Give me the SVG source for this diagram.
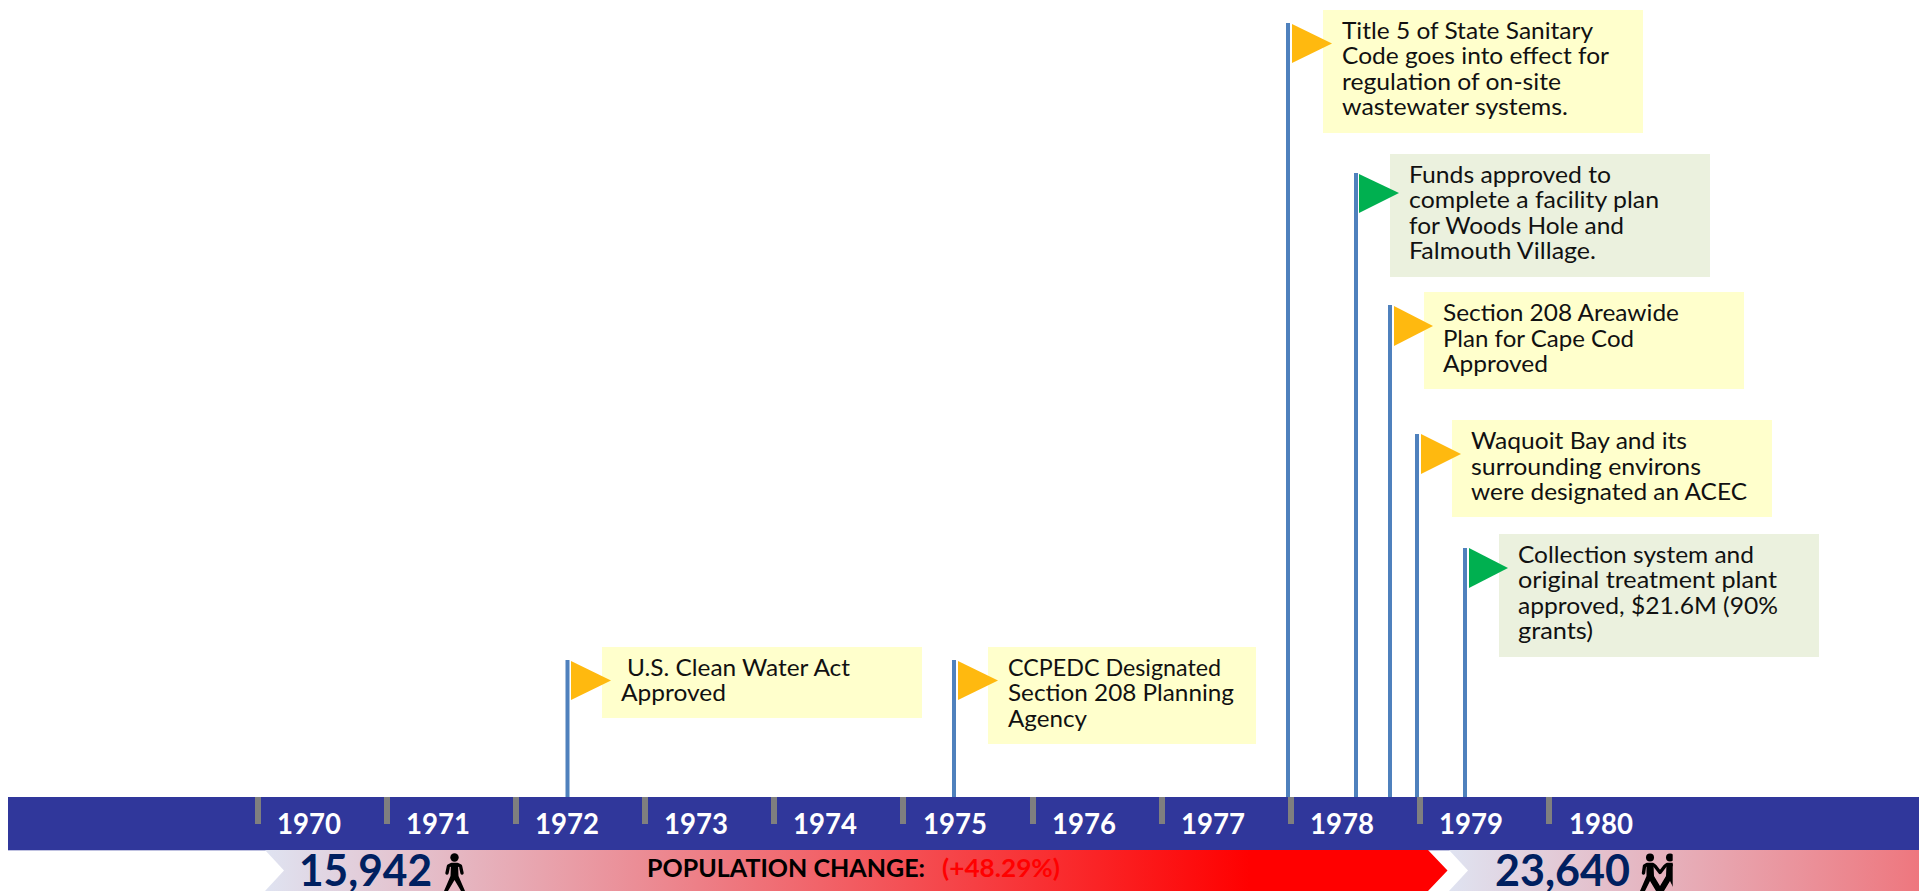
<svg xmlns="http://www.w3.org/2000/svg" width="1919" height="891" viewBox="0 0 1919 891">
<style>
text{font-family:"Lato","Liberation Sans",sans-serif}
.t{font-size:23.5px;fill:#111}
.y{font-size:29px;font-weight:700;fill:#fff}
.n{font-size:43px;font-weight:700;fill:#002060}
.p{font-size:24.5px;font-weight:700}
.pole{fill:#4f81bd}.tick{fill:#7f7f7f}
.yb{fill:#ffffcc}.gb{fill:#ebf1de}
.of{fill:#ffb90f}.gf{fill:#00b050}
.ic{fill:#000}
.lim{fill:none;stroke:#000;stroke-width:3.4;stroke-linejoin:round;stroke-linecap:round}
</style>
<defs>
<linearGradient id="g1" gradientUnits="userSpaceOnUse" x1="265" y1="0" x2="1250" y2="0"><stop offset="0" stop-color="#dfe3f1"/><stop offset="1" stop-color="#ff0000"/></linearGradient>
<linearGradient id="g2" gradientUnits="userSpaceOnUse" x1="1449" y1="0" x2="2434" y2="0"><stop offset="0" stop-color="#dfe3f1"/><stop offset="1" stop-color="#ff0000"/></linearGradient>
<clipPath id="c2"><rect x="1635" y="850" width="37.7" height="41"/></clipPath>
</defs>
<rect width="1919" height="891" fill="#fff"/>
<g id="timeline-bar">
<rect x="8" y="797" width="1911" height="53.3" fill="#30379b"/>
<g class="ticks">
<rect class="tick" x="255" y="797" width="6" height="27"/><rect class="tick" x="384" y="797" width="6" height="27"/><rect class="tick" x="513" y="797" width="6" height="27"/><rect class="tick" x="642" y="797" width="6" height="27"/><rect class="tick" x="771" y="797" width="6" height="27"/><rect class="tick" x="900" y="797" width="6" height="27"/><rect class="tick" x="1030" y="797" width="6" height="27"/><rect class="tick" x="1159" y="797" width="6" height="27"/><rect class="tick" x="1288" y="797" width="6" height="27"/><rect class="tick" x="1417" y="797" width="6" height="27"/><rect class="tick" x="1546" y="797" width="6" height="27"/>
</g>
<text class="y" x="277" y="834" textLength="64" lengthAdjust="spacingAndGlyphs">1970</text>
<text class="y" x="406" y="834" textLength="64" lengthAdjust="spacingAndGlyphs">1971</text>
<text class="y" x="535" y="834" textLength="64" lengthAdjust="spacingAndGlyphs">1972</text>
<text class="y" x="664" y="834" textLength="64" lengthAdjust="spacingAndGlyphs">1973</text>
<text class="y" x="793" y="834" textLength="64" lengthAdjust="spacingAndGlyphs">1974</text>
<text class="y" x="923" y="834" textLength="64" lengthAdjust="spacingAndGlyphs">1975</text>
<text class="y" x="1052" y="834" textLength="64" lengthAdjust="spacingAndGlyphs">1976</text>
<text class="y" x="1181" y="834" textLength="64" lengthAdjust="spacingAndGlyphs">1977</text>
<text class="y" x="1310" y="834" textLength="64" lengthAdjust="spacingAndGlyphs">1978</text>
<text class="y" x="1439" y="834" textLength="64" lengthAdjust="spacingAndGlyphs">1979</text>
<text class="y" x="1569" y="834" textLength="64" lengthAdjust="spacingAndGlyphs">1980</text>
</g>
<g id="population-band">
<path d="M265 850H1428L1447.500 870.500 1428 891H265L284 870.500Z" fill="url(#g1)"/>
<path d="M1449 850H1919V891H1449L1468 870.500Z" fill="url(#g2)"/>
<text class="n" x="299" y="886" textLength="133" lengthAdjust="spacingAndGlyphs">15,942</text>
<text class="n" x="1495" y="886" textLength="135" lengthAdjust="spacingAndGlyphs">23,640</text>
<g id="icon-single"><circle class="ic" cx="454.500" cy="857.500" r="4.200"/><path class="lim" d="M447 873 448.500 866 451.500 864.500H457.500L460.500 866 462 873"/><path class="ic" d="M451 864H458L458.500 876 465 891H461L454.500 880 448 891H444L450.500 876Z"/></g>
<g id="icon-pair" clip-path="url(#c2)">
<circle class="ic" cx="1650" cy="857.500" r="4"/><circle class="ic" cx="1670" cy="857.500" r="4"/>
<path class="lim" d="M1643.500 873 1644.500 866 1647 864.500H1653L1655 866 1660 872.500 1665 866 1667 864.500H1673"/>
<path class="ic" d="M1646.500 864H1653.500L1654 876 1660 886 1666 876 1666.500 864H1673.500V876L1680 891H1675L1670 881 1664 891H1656L1650 881 1645 891H1640L1646.500 876Z"/>
</g>
<text class="p" x="647" y="876.500" textLength="278" lengthAdjust="spacingAndGlyphs">POPULATION CHANGE:</text>
<text class="p" x="942" y="876.500" fill="#f00" textLength="118" lengthAdjust="spacingAndGlyphs">(+48.29%)</text>
</g>
<g id="connectors">
<rect class="pole" x="565.500" y="660" width="4" height="137"/>
<rect class="pole" x="952" y="660" width="4" height="137"/>
<rect class="pole" x="1286" y="23" width="4" height="774"/>
<rect class="pole" x="1354" y="173" width="4" height="624"/>
<rect class="pole" x="1388" y="305" width="4" height="492"/>
<rect class="pole" x="1415" y="434" width="4" height="363"/>
<rect class="pole" x="1463" y="548" width="4" height="249"/>
</g>
<g id="event-1972">
<rect class="yb" x="602" y="647" width="320" height="71"/><polygon class="of" points="571,661 611,680.500 571,700"/>
<text class="t" x="627" y="675.700" textLength="223" lengthAdjust="spacingAndGlyphs">U.S. Clean Water Act</text>
<text class="t" x="621" y="701" textLength="105" lengthAdjust="spacingAndGlyphs">Approved</text>
</g>
<g id="event-1975">
<rect class="yb" x="988" y="647" width="268" height="97"/><polygon class="of" points="958,661 998,680.500 958,700"/>
<text class="t" x="1008" y="675.700" textLength="213" lengthAdjust="spacingAndGlyphs">CCPEDC Designated</text>
<text class="t" x="1008" y="701" textLength="226" lengthAdjust="spacingAndGlyphs">Section 208 Planning</text>
<text class="t" x="1008" y="726.700" textLength="79" lengthAdjust="spacingAndGlyphs">Agency</text>
</g>
<g id="event-title5">
<rect class="yb" x="1323" y="10" width="320" height="123"/><polygon class="of" points="1292,24 1332,43.500 1292,63"/>
<text class="t" x="1342" y="38.500" textLength="251" lengthAdjust="spacingAndGlyphs">Title 5 of State Sanitary</text>
<text class="t" x="1342" y="64" textLength="267" lengthAdjust="spacingAndGlyphs">Code goes into effect for</text>
<text class="t" x="1342" y="89.500" textLength="219" lengthAdjust="spacingAndGlyphs">regulation of on-site</text>
<text class="t" x="1342" y="115" textLength="226" lengthAdjust="spacingAndGlyphs">wastewater systems.</text>
</g>
<g id="event-funds">
<rect class="gb" x="1390" y="154" width="320" height="123"/><polygon class="gf" points="1359,174 1399,193 1359,213"/>
<text class="t" x="1409" y="182.500" textLength="202" lengthAdjust="spacingAndGlyphs">Funds approved to</text>
<text class="t" x="1409" y="208" textLength="250" lengthAdjust="spacingAndGlyphs">complete a facility plan</text>
<text class="t" x="1409" y="233.500" textLength="215" lengthAdjust="spacingAndGlyphs">for Woods Hole and</text>
<text class="t" x="1409" y="259" textLength="187" lengthAdjust="spacingAndGlyphs">Falmouth Village.</text>
</g>
<g id="event-section208">
<rect class="yb" x="1424" y="292" width="320" height="97"/><polygon class="of" points="1394,306 1433,326 1394,346"/>
<text class="t" x="1443" y="320.500" textLength="236" lengthAdjust="spacingAndGlyphs">Section 208 Areawide</text>
<text class="t" x="1443" y="346.500" textLength="191" lengthAdjust="spacingAndGlyphs">Plan for Cape Cod</text>
<text class="t" x="1443" y="372" textLength="105" lengthAdjust="spacingAndGlyphs">Approved</text>
</g>
<g id="event-waquoit">
<rect class="yb" x="1452" y="420" width="320" height="97"/><polygon class="of" points="1421,434 1461,454 1421,474"/>
<text class="t" x="1471" y="448.700" textLength="216" lengthAdjust="spacingAndGlyphs">Waquoit Bay and its</text>
<text class="t" x="1471" y="474.700" textLength="230" lengthAdjust="spacingAndGlyphs">surrounding environs</text>
<text class="t" x="1471" y="500" textLength="276" lengthAdjust="spacingAndGlyphs">were designated an ACEC</text>
</g>
<g id="event-collection">
<rect class="gb" x="1499" y="534" width="320" height="123"/><polygon class="gf" points="1469,548 1508,568 1469,588"/>
<text class="t" x="1518" y="562.700" textLength="236" lengthAdjust="spacingAndGlyphs">Collection system and</text>
<text class="t" x="1518" y="588.300" textLength="259" lengthAdjust="spacingAndGlyphs">original treatment plant</text>
<text class="t" x="1518" y="614" textLength="260" lengthAdjust="spacingAndGlyphs">approved, $21.6M (90%</text>
<text class="t" x="1518" y="639.300" textLength="75" lengthAdjust="spacingAndGlyphs">grants)</text>
</g>
</svg>
